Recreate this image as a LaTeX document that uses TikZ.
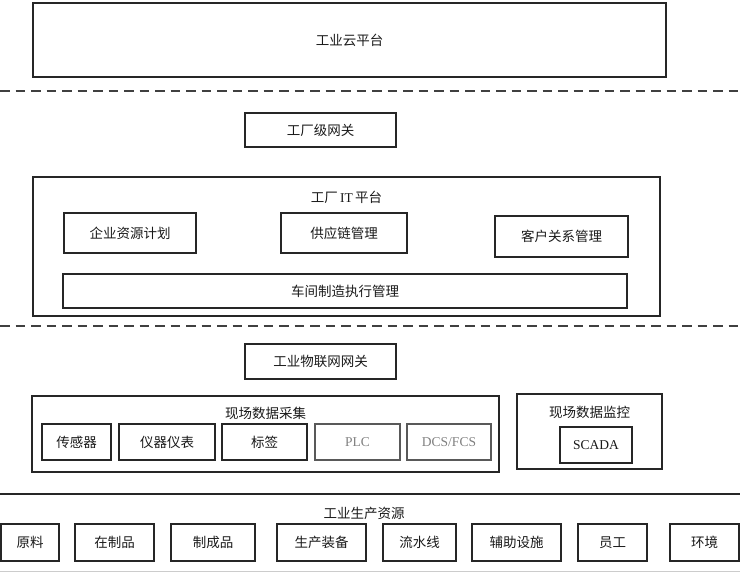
\documentclass[tikz,border=0pt]{standalone}
\usepackage{fontspec}
\setmainfont{Noto Sans CJK SC}
\newfontfamily\latinfont{Liberation Serif}
\usepackage{tikz}

\tikzset{
  box/.style={draw=black!85,line width=1.1pt,outer sep=0pt,inner sep=0pt,
    font=\fontsize{13.5}{15}\selectfont,text=black!90},
  greybox/.style={box,draw=black!65,text=black!50},
  title/.style={inner sep=0pt,font=\fontsize{13.5}{15}\selectfont,text=black!90},
  sepline/.style={line width=1.1pt,black!75,dash pattern=on 9.5pt off 6pt}
}

\begin{document}
\begin{tikzpicture}[x=1pt,y=-1pt]

  % 画布范围
  \useasboundingbox (0,0) rectangle (740,574);

  % 云平台层
  \node[box,minimum width=633,minimum height=74] (cloud) at (349.5,40) {工业云平台};
  \draw[sepline] (0,91) -- (740,91);

  % 工厂层
  \node[box,minimum width=151,minimum height=34] (factorygw) at (320.5,130) {工厂级网关};
  \node[box,minimum width=627,minimum height=139] (itplat) at (346.5,246.5) {};
  \node[title] (ittitle) at (346.5,197) {工厂\,{\latinfont IT}\,平台};
  \node[box,minimum width=132,minimum height=40] (erp) at (130,233) {企业资源计划};
  \node[box,minimum width=126,minimum height=40] (scm) at (344,233) {供应链管理};
  \node[box,minimum width=133,minimum height=41] (crm) at (561.5,236.5) {客户关系管理};
  \node[box,minimum width=564,minimum height=34] (mes) at (345,291) {车间制造执行管理};
  \draw[sepline] (0,326) -- (740,326);

  % 现场层
  \node[box,minimum width=151,minimum height=35] (iotgw) at (320.5,361.5) {工业物联网网关};
  \node[box,minimum width=467,minimum height=76] (collect) at (265.5,434) {};
  \node[title] (collecttitle) at (265.5,413) {现场数据采集};
  \node[box,minimum width=69,minimum height=36] (sensor) at (76.5,442) {传感器};
  \node[box,minimum width=96,minimum height=36] (instr) at (167,442) {仪器仪表};
  \node[box,minimum width=85,minimum height=36] (tag) at (264.5,442) {标签};
  \node[greybox,minimum width=85,minimum height=36] (plc) at (357.5,442) {\latinfont PLC};
  \node[greybox,minimum width=84,minimum height=36] (dcs) at (449,442) {\latinfont DCS/FCS};
  \node[box,minimum width=145,minimum height=75] (monitor) at (589.5,431.5) {};
  \node[title] (monitortitle) at (589.5,412) {现场数据监控};
  \node[box,minimum width=72,minimum height=36] (scada) at (596,445) {\latinfont SCADA};

  % 生产资源层
  \draw[line width=1.8pt,black!85] (0,494) -- (740,494);
  \draw[line width=0.8pt,black!20] (0,571) -- (740,571);
  \node[title] (restitle) at (364,513) {工业生产资源};
  \node[box,minimum width=58,minimum height=37] (raw) at (30,542.5) {原料};
  \node[box,minimum width=79,minimum height=37] (wip) at (114.5,542.5) {在制品};
  \node[box,minimum width=84,minimum height=37] (product) at (213,542.5) {制成品};
  \node[box,minimum width=89,minimum height=37] (equip) at (321.5,542.5) {生产装备};
  \node[box,minimum width=73,minimum height=37] (line) at (419.5,542.5) {流水线};
  \node[box,minimum width=89,minimum height=37] (aux) at (516.5,542.5) {辅助设施};
  \node[box,minimum width=69,minimum height=37] (staff) at (612.5,542.5) {员工};
  \node[box,minimum width=69,minimum height=37] (env) at (704.5,542.5) {环境};

\end{tikzpicture}
\end{document}
